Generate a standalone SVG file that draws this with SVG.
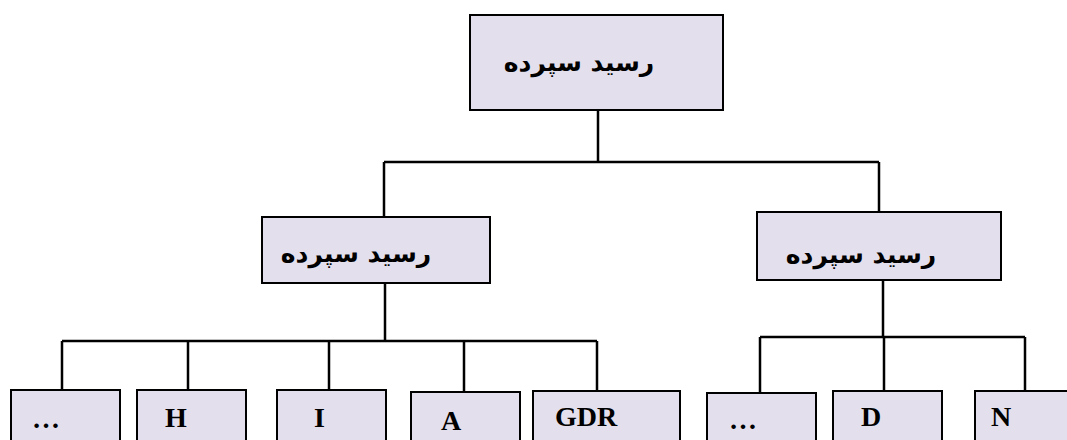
<svg xmlns="http://www.w3.org/2000/svg" width="1067" height="440" viewBox="0 0 1067 440">
<style>
.box{fill:#E4DFEC;stroke:#000;stroke-width:2}
.fa{font-family:"DejaVu Sans",sans-serif;font-weight:bold;font-size:25px;fill:#000;text-anchor:middle}
.en{font-family:"Liberation Serif",serif;font-weight:bold;font-size:28px;fill:#000}
.ln{fill:none;stroke:#000;stroke-width:2.5}
</style>
<rect width="1067" height="440" fill="#fff"/>
<g id="connectors">
<path class="ln" d="M598,110V162M384,162H879M384,162V217M879,162V212"/>
<path class="ln" d="M385,283V341M62,341H597M62,341V390M188,341V390M329,341V390M464,341V392M597,341V391"/>
<path class="ln" d="M883,280V337M760,337H1025M760,337V393M884,337V391M1025,337V392"/>
</g>
<g id="root"><rect class="box" x="470" y="15" width="253" height="95"/><text class="fa" x="579" y="71" direction="rtl">رسید سپرده</text></g>
<g id="mid-left"><rect class="box" x="262" y="217" width="228" height="66"/><text class="fa" x="356" y="262" direction="rtl">رسید سپرده</text></g>
<g id="mid-right"><rect class="box" x="757" y="212" width="244" height="68"/><text class="fa" x="861" y="263" direction="rtl">رسید سپرده</text></g>
<g id="b1"><rect class="box" x="11" y="390" width="109" height="60"/><text class="en" x="32" y="428">…</text></g>
<g id="b2"><rect class="box" x="137" y="390" width="109" height="60"/><text class="en" x="165" y="427">H</text></g>
<g id="b3"><rect class="box" x="277" y="390" width="109" height="60"/><text class="en" x="314" y="427">I</text></g>
<g id="b4"><rect class="box" x="411" y="392" width="109" height="60"/><text class="en" x="441" y="430">A</text></g>
<g id="b5"><rect class="box" x="533" y="391" width="147" height="60"/><text class="en" x="555" y="426">GDR</text></g>
<g id="b6"><rect class="box" x="707" y="393" width="109" height="60"/><text class="en" x="729" y="429">…</text></g>
<g id="b7"><rect class="box" x="833" y="391" width="109" height="60"/><text class="en" x="861" y="426">D</text></g>
<g id="b8"><rect class="box" x="975" y="391" width="109" height="60"/><text class="en" x="991" y="426">N</text></g>
</svg>
